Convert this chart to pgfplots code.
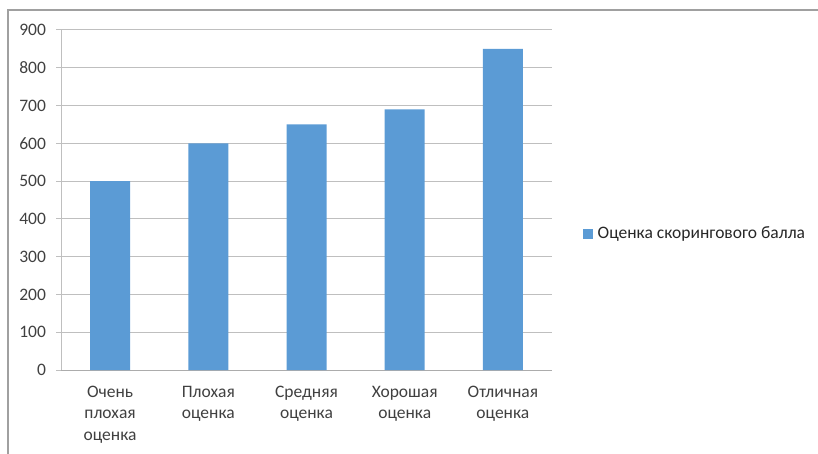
\documentclass[border=0pt]{standalone}
\usepackage{fontspec}
\setmainfont{Carlito}
\usepackage{pgfplots}
\pgfplotsset{compat=1.18}
\definecolor{barblue}{HTML}{5B9BD5}
\definecolor{gridgray}{HTML}{BFBFBF}
\definecolor{framegray}{HTML}{A0A0A0}
\definecolor{txt}{HTML}{404040}

\begin{document}
\fontsize{17.5}{21.5}\selectfont
\begin{tikzpicture}
  \useasboundingbox (0,0) rectangle (818pt,-454pt);
  % chart frame
  \draw[framegray, line width=1.2pt] (8pt,-454pt) -- (8pt,-10pt) -- (818pt,-10pt);

  \begin{axis}[
    at={(61pt,-370pt)}, anchor=south west,
    scale only axis,
    width=491pt, height=340pt,
    xmin=-0.5, xmax=4.5,
    ymin=0, ymax=900,
    ytick={0,100,...,900},
    xtick={0,1,2,3,4},
    xticklabels={Очень\\плохая\\оценка, Плохая\\оценка, Средняя\\оценка, Хорошая\\оценка, Отличная\\оценка},
    xticklabel style={align=center, text=txt, font=\fontsize{17.5}{21.5}\selectfont, yshift=-5pt},
    yticklabel style={text=txt, font=\fontsize{17.5}{21.5}\selectfont, xshift=-4pt},
    /pgf/number format/assume math mode=true,
    ymajorgrids,
    grid style={gridgray, line width=1pt},
    axis x line*=bottom,
    axis y line*=left,
    x axis line style={-, color=gridgray!90!black, line width=1pt},
    y axis line style={-, color=gridgray, line width=1pt},
    major x tick style={draw=none},
    ytick style={gridgray, line width=1pt},
    major tick length=5pt,
    extra x ticks={-0.5,0.5,1.5,2.5,3.5,4.5},
    extra x tick labels={},
    extra x tick style={grid=none, tick style={gridgray!90!black, line width=1pt}, tick align=outside, major tick length=6pt},
    tick align=outside,
    ybar, bar width=40pt,
    legend style={at={(1,0.4)}, anchor=west, xshift=28pt, draw=none, fill=none,
      font=\fontsize{17.5}{21.5}\selectfont, text=txt!60!black,
      legend cell align=left},
    legend image code/.code={\fill[barblue] (0pt,-4.5pt) rectangle (9.5pt,5pt);},
  ]
    \addplot[fill=barblue, draw=none] coordinates {(0,500) (1,600) (2,650) (3,690) (4,850)};
    \addlegendentry{\hspace{3pt}Оценка скорингового балла}
  \end{axis}
\end{tikzpicture}
\end{document}
